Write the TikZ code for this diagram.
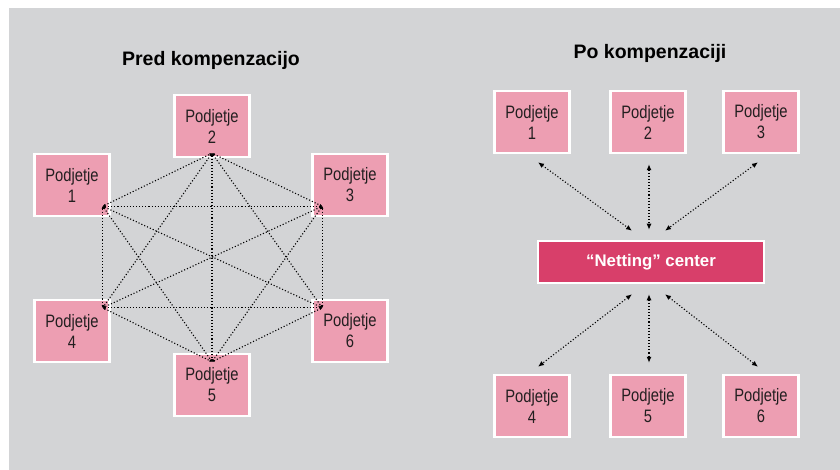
\documentclass[tikz,border=0pt]{standalone}
\usepackage{fontspec}
\setmainfont{Liberation Sans}
\newfontfamily\boxfont[FakeStretch=0.82]{Liberation Sans}
\usetikzlibrary{arrows.meta,positioning}
\definecolor{PanelGray}{RGB}{211,212,214}
\definecolor{FirmPink}{RGB}{237,158,178}
\definecolor{NettingRed}{RGB}{216,63,106}
\definecolor{InkBlack}{RGB}{35,31,32}

\begin{document}
\begin{tikzpicture}[
  x=1pt, y=-1pt,
  firm/.style={
    draw=white,
    line width=2.5pt,
    fill=FirmPink,
    align=center,
    minimum width=75pt,
    minimum height=62pt,
    inner sep=0pt,
    text=InkBlack,
    font=\boxfont\fontsize{18}{21}\selectfont
  },
  netting/.style={
    draw=white,
    line width=2.5pt,
    fill=NettingRed,
    minimum width=226pt,
    minimum height=42pt,
    text=white,
    font=\bfseries\fontsize{16.8}{18}\selectfont
  },
  heading/.style={font=\bfseries\fontsize{19.5}{21}\selectfont, text=black},
  link/.style={dotted, line width=1.1pt, {Latex[length=2.5pt,width=2.5pt]}-{Latex[length=2.5pt,width=2.5pt]}},
  flow/.style={dotted, line width=1.1pt, {Latex[length=6pt,width=5pt]}-{Latex[length=6pt,width=5pt]}}
]
\useasboundingbox (0,0) rectangle (840,470);
\fill[PanelGray] (9,8) rectangle (840,470);

% before netting
\node[heading] (before) at (211,60) {Pred kompenzacijo};
\node[firm] (l1) at (72,185) {Podjetje\\1};
\node[firm] (l2) at (212,126) {Podjetje\\2};
\node[firm] (l3) at (350,185) {Podjetje\\3};
\node[firm] (l4) at (72,331) {Podjetje\\4};
\node[firm] (l5) at (212,385) {Podjetje\\5};
\node[firm] (l6) at (350,331) {Podjetje\\6};

\coordinate (p1) at ([shift={(-8,-11)}]l1.south east);
\coordinate (p2) at ([shift={(0,-5)}]l2.south);
\coordinate (p3) at ([shift={(11,-11)}]l3.south west);
\coordinate (p4) at ([shift={(-8,9)}]l4.north east);
\coordinate (p5) at ([shift={(0,9)}]l5.north);
\coordinate (p6) at ([shift={(11,9)}]l6.north west);

\draw[link] (p1) -- (p2);
\draw[link] (p1) -- (p3);
\draw[link] (p1) -- (p4);
\draw[link] (p1) -- (p5);
\draw[link] (p1) -- (p6);
\draw[link] (p2) -- (p3);
\draw[link] (p2) -- (p4);
\draw[link] (p2) -- (p5);
\draw[link] (p2) -- (p6);
\draw[link] (p3) -- (p4);
\draw[link] (p3) -- (p5);
\draw[link] (p3) -- (p6);
\draw[link] (p4) -- (p5);
\draw[link] (p4) -- (p6);
\draw[link] (p5) -- (p6);

% after netting
\node[heading] (after) at (650,53) {Po kompenzaciji};
\node[firm] (r1) at (532,122) {Podjetje\\1};
\node[firm] (r2) at (648,122) {Podjetje\\2};
\node[firm] (r3) at (761,122) {Podjetje\\3};
\node[netting] (center) at (651,262) {“Netting” center};
\node[firm] (r4) at (532,406) {Podjetje\\4};
\node[firm] (r5) at (648,406) {Podjetje\\5};
\node[firm] (r6) at (761,406) {Podjetje\\6};

\draw[flow] ([shift={(6,8)}]r1.south) -- ([shift={(-19,-9)}]center.north);
\draw[flow] ([shift={(1,10)}]r2.south) -- ([shift={(-2,-10)}]center.north);
\draw[flow] ([shift={(-3,8)}]r3.south) -- ([shift={(14,-9)}]center.north);
\draw[flow] ([shift={(-19,10)}]center.south) -- ([shift={(6,-7)}]r4.north);
\draw[flow] ([shift={(-2,10)}]center.south) -- ([shift={(1,-11)}]r5.north);
\draw[flow] ([shift={(14,10)}]center.south) -- ([shift={(-3,-7)}]r6.north);
\end{tikzpicture}
\end{document}
